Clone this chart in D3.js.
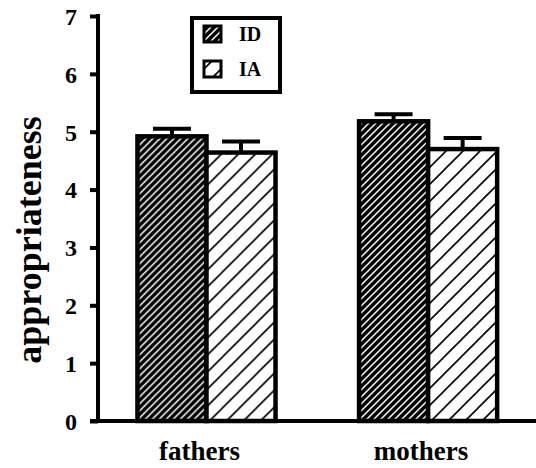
<!DOCTYPE html>
<html>
<head>
<meta charset="utf-8">
<script src="https://cdn.jsdelivr.net/npm/d3@7"></script>
<style>
  html, body { margin: 0; padding: 0; background: #fff; }
  svg { display: block; }
  text { font-family: "Liberation Serif", "Times New Roman", serif; font-weight: bold; fill: #000; }
</style>
</head>
<body>
<svg id="chart" width="536" height="468"></svg>
<script>
// Mean appropriateness ratings with standard errors
const categories = ["fathers", "mothers"];
const series = ["ID", "IA"];
const idMeans = [4.92, 5.18];
const iaMeans = [4.64, 4.70];
const idErrors = [0.13, 0.12];
const iaErrors = [0.19, 0.19];
const yTicks = [0, 1, 2, 3, 4, 5, 6, 7];
const yLabel = "appropriateness";

const rows = categories.map((c, i) => ({
  category: c,
  bars: [
    { series: "ID", mean: idMeans[i], err: idErrors[i] },
    { series: "IA", mean: iaMeans[i], err: iaErrors[i] }
  ]
}));

const svg = d3.select("#chart");

// Hatch fills: black with fine white stripes (ID), white with sparse black stripes (IA)
const defs = svg.append("defs");
function hatch(id, size, bg, fg, width) {
  const p = defs.append("pattern")
    .attr("id", id)
    .attr("patternUnits", "userSpaceOnUse")
    .attr("width", size).attr("height", size);
  p.append("rect").attr("width", size).attr("height", size).attr("fill", bg);
  p.append("path")
    .attr("d", `M${-size / 4},${size / 4} l${size / 2},${-size / 2} M0,${size} l${size},${-size} M${size * 3 / 4},${size * 5 / 4} l${size / 2},${-size / 2}`)
    .attr("stroke", fg).attr("stroke-width", width);
}
hatch("hatch-id", 7, "#000", "#fff", 1.5);
hatch("hatch-ia", 17, "#fff", "#000", 1.6);
const fills = { ID: "url(#hatch-id)", IA: "url(#hatch-ia)" };

const y = d3.scaleLinear().domain([0, 7]).range([421, 16]);

const x0 = d3.scaleBand()
  .domain(categories)
  .range([98, 536.6])
  .paddingInner(0.377)
  .paddingOuter(0.178);

const x1 = d3.scaleBand()
  .domain(series)
  .range([0, x0.bandwidth()])
  .padding(0);

// Bars
const groups = svg.append("g").selectAll("g")
  .data(rows)
  .join("g")
  .attr("transform", d => `translate(${x0(d.category)},0)`);

groups.selectAll("rect.bar")
  .data(d => d.bars)
  .join("rect")
  .attr("class", "bar")
  .attr("x", d => x1(d.series))
  .attr("y", d => y(d.mean))
  .attr("width", x1.bandwidth())
  .attr("height", d => y(0) - y(d.mean))
  .attr("fill", d => fills[d.series])
  .attr("stroke", "#000")
  .attr("stroke-width", 4.5);

// Error bars (upper half only)
const capHalf = 19;
groups.selectAll("line.stem")
  .data(d => d.bars)
  .join("line")
  .attr("class", "stem")
  .attr("x1", d => x1(d.series) + x1.bandwidth() / 2)
  .attr("x2", d => x1(d.series) + x1.bandwidth() / 2)
  .attr("y1", d => y(d.mean))
  .attr("y2", d => y(d.mean + d.err))
  .attr("stroke", "#000").attr("stroke-width", 4);

groups.selectAll("line.cap")
  .data(d => d.bars)
  .join("line")
  .attr("class", "cap")
  .attr("x1", d => x1(d.series) + x1.bandwidth() / 2 - capHalf)
  .attr("x2", d => x1(d.series) + x1.bandwidth() / 2 + capHalf)
  .attr("y1", d => y(d.mean + d.err))
  .attr("y2", d => y(d.mean + d.err))
  .attr("stroke", "#000").attr("stroke-width", 4);

// Y axis
const yAxis = svg.append("g")
  .attr("transform", "translate(98,0)")
  .call(d3.axisLeft(y).tickValues(yTicks).tickFormat(d3.format("d")).tickSize(8).tickSizeOuter(0));
yAxis.select(".domain").attr("stroke", "#000").attr("stroke-width", 4).attr("d", `M0,${y(7) - 2}V${y(0)}`);
yAxis.selectAll(".tick line").attr("stroke", "#000").attr("stroke-width", 4);
yAxis.selectAll(".tick text")
  .attr("x", -21)
  .attr("dy", "0.35em")
  .style("font-family", "'Liberation Serif', serif")
  .style("font-weight", "bold")
  .style("font-size", "24px");

// X axis baseline and category labels
svg.append("line")
  .attr("x1", 90).attr("x2", 536)
  .attr("y1", y(0)).attr("y2", y(0))
  .attr("stroke", "#000").attr("stroke-width", 4);

svg.append("g").selectAll("text")
  .data(categories)
  .join("text")
  .attr("x", d => x0(d) + x0.bandwidth() / 2 - 7)
  .attr("y", 460)
  .attr("text-anchor", "middle")
  .style("font-size", "27px")
  .text(d => d);

// Y axis title
svg.append("text")
  .attr("transform", "translate(41,240) rotate(-90)")
  .attr("text-anchor", "middle")
  .style("font-size", "36px")
  .text(yLabel);

// Legend
const legend = svg.append("g");
legend.append("rect")
  .attr("x", 192).attr("y", 18).attr("width", 88).attr("height", 74)
  .attr("fill", "#fff").attr("stroke", "#000").attr("stroke-width", 4);
const items = legend.selectAll("g.item")
  .data(series)
  .join("g")
  .attr("class", "item")
  .attr("transform", (d, i) => `translate(0,${i * 35})`);
items.append("rect")
  .attr("x", 204).attr("y", 26).attr("width", 17).attr("height", 16)
  .attr("fill", d => fills[d])
  .attr("stroke", "#000").attr("stroke-width", 3);
items.append("text")
  .attr("x", 239).attr("y", 41)
  .style("font-size", "20px")
  .text(d => d);
</script>
</body>
</html>
